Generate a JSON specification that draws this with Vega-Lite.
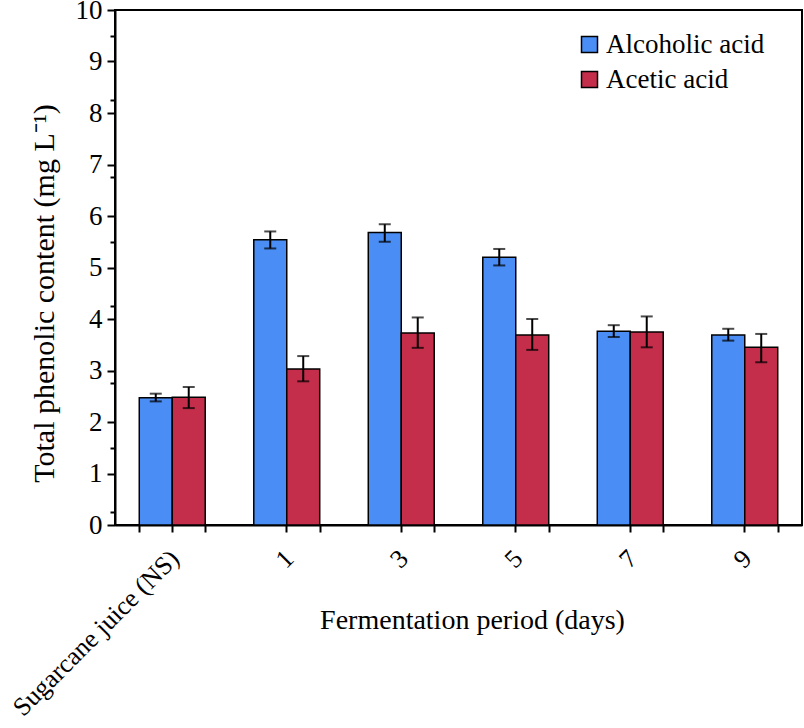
{
  "$schema": "https://vega.github.io/schema/vega-lite/v6.json",
  "width": 687,
  "height": 515,
  "autosize": "none",
  "padding": {"left": 115, "top": 10, "right": 2, "bottom": 203},
  "background": "white",
  "config": {
    "view": {"stroke": "black", "strokeWidth": 2},
    "axis": {
      "labelFont": "Liberation Serif",
      "titleFont": "Liberation Serif",
      "labelColor": "black",
      "titleColor": "black",
      "domainColor": "black",
      "tickColor": "black",
      "domainWidth": 2,
      "tickWidth": 2,
      "grid": false,
      "titleFontWeight": "normal"
    }
  },
  "data": {
    "values": [
      {"period": "Sugarcane juice (NS)", "series": "Alcoholic acid", "value": 2.47, "lo": 2.40, "hi": 2.55},
      {"period": "Sugarcane juice (NS)", "series": "Acetic acid", "value": 2.48, "lo": 2.27, "hi": 2.68},
      {"period": "1", "series": "Alcoholic acid", "value": 5.54, "lo": 5.37, "hi": 5.70},
      {"period": "1", "series": "Acetic acid", "value": 3.03, "lo": 2.79, "hi": 3.28},
      {"period": "3", "series": "Alcoholic acid", "value": 5.68, "lo": 5.50, "hi": 5.84},
      {"period": "3", "series": "Acetic acid", "value": 3.73, "lo": 3.44, "hi": 4.03},
      {"period": "5", "series": "Alcoholic acid", "value": 5.20, "lo": 5.04, "hi": 5.36},
      {"period": "5", "series": "Acetic acid", "value": 3.69, "lo": 3.40, "hi": 4.00},
      {"period": "7", "series": "Alcoholic acid", "value": 3.76, "lo": 3.65, "hi": 3.88},
      {"period": "7", "series": "Acetic acid", "value": 3.75, "lo": 3.45, "hi": 4.05},
      {"period": "9", "series": "Alcoholic acid", "value": 3.69, "lo": 3.58, "hi": 3.81},
      {"period": "9", "series": "Acetic acid", "value": 3.45, "lo": 3.16, "hi": 3.71}
    ]
  },
  "layer": [
    {
      "mark": {"type": "bar", "stroke": "black", "strokeWidth": 1.5},
      "encoding": {
        "x": {
          "field": "period",
          "type": "nominal",
          "sort": ["Sugarcane juice (NS)", "1", "3", "5", "7", "9"],
          "scale": {"paddingInner": 0.424, "paddingOuter": 0.212},
          "axis": {
            "title": "Fermentation period (days)",
            "tickBand": "extent",
            "labelAngle": -45,
            "labelFont": "Liberation Serif",
            "labelFontSize": 26,
            "labelLimit": 400,
            "tickSize": 7,
            "labelPadding": 13,
            "labelOffset": -7,
            "titleFontSize": 28,
            "titleX": 357,
            "titleY": 103,
            "titleBaseline": "alphabetic",
            "titleAlign": "center"
          }
        },
        "xOffset": {"field": "series", "type": "nominal", "sort": ["Alcoholic acid", "Acetic acid"]},
        "y": {
          "field": "value",
          "type": "quantitative",
          "scale": {"domain": [0, 10]},
          "axis": {
            "title": "Total phenolic content (mg L⁻¹)",
            "titleFontSize": 30,
            "titleAngle": -90,
            "titleX": -62,
            "titleY": 283,
            "titleBaseline": "alphabetic",
            "titleAlign": "center",
            "labelFontSize": 27,
            "labelPadding": 5,
            "values": [0, 1, 2, 3, 4, 5, 6, 7, 8, 9, 10],
            "tickSize": 8
          }
        },
        "color": {
          "field": "series",
          "type": "nominal",
          "scale": {"domain": ["Alcoholic acid", "Acetic acid"], "range": ["#4a8ef5", "#c42e4b"]},
          "legend": {
            "title": null,
            "orient": "none",
            "legendX": 461,
            "legendY": 21,
            "padding": 0,
            "symbolType": "square",
            "symbolSize": 256,
            "symbolStrokeColor": "black",
            "symbolStrokeWidth": 1.5,
            "symbolOpacity": 1,
            "labelFont": "Liberation Serif",
            "labelFontSize": 27,
            "labelColor": "black",
            "labelOffset": 3,
            "labelLimit": 300,
            "rowPadding": 7
          }
        }
      }
    },
    {
      "encoding": {
        "x": {
          "field": "period",
          "type": "nominal",
          "sort": ["Sugarcane juice (NS)", "1", "3", "5", "7", "9"],
          "scale": {"paddingInner": 0.424, "paddingOuter": 0.212},
          "axis": {"orient": "bottom", "labels": false, "domain": false, "title": null, "tickSize": 7}
        },
        "xOffset": {"field": "series", "type": "nominal", "sort": ["Alcoholic acid", "Acetic acid"]}
      },
      "layer": [
        {
          "mark": {"type": "rule", "color": "black", "strokeWidth": 2},
          "encoding": {
            "y": {
              "field": "lo",
              "type": "quantitative",
              "scale": {"domain": [0, 10]},
              "axis": {"orient": "left", "labels": false, "domain": false, "title": null, "tickSize": 5, "values": [0.25, 0.5, 0.75, 1.25, 1.5, 1.75, 2.25, 2.5, 2.75, 3.25, 3.5, 3.75, 4.25, 4.5, 4.75, 5.25, 5.5, 5.75, 6.25, 6.5, 6.75, 7.25, 7.5, 7.75, 8.25, 8.5, 8.75, 9.25, 9.5, 9.75]}
            },
            "y2": {"field": "hi"}
          }
        },
        {
          "mark": {"type": "tick", "color": "black", "size": 12, "thickness": 2},
          "encoding": {"y": {"field": "hi", "type": "quantitative"}}
        },
        {
          "mark": {"type": "tick", "color": "black", "size": 12, "thickness": 2},
          "encoding": {"y": {"field": "lo", "type": "quantitative"}}
        }
      ]
    }
  ],
  "resolve": {"scale": {"x": "independent", "xOffset": "independent", "y": "independent"}}
}
